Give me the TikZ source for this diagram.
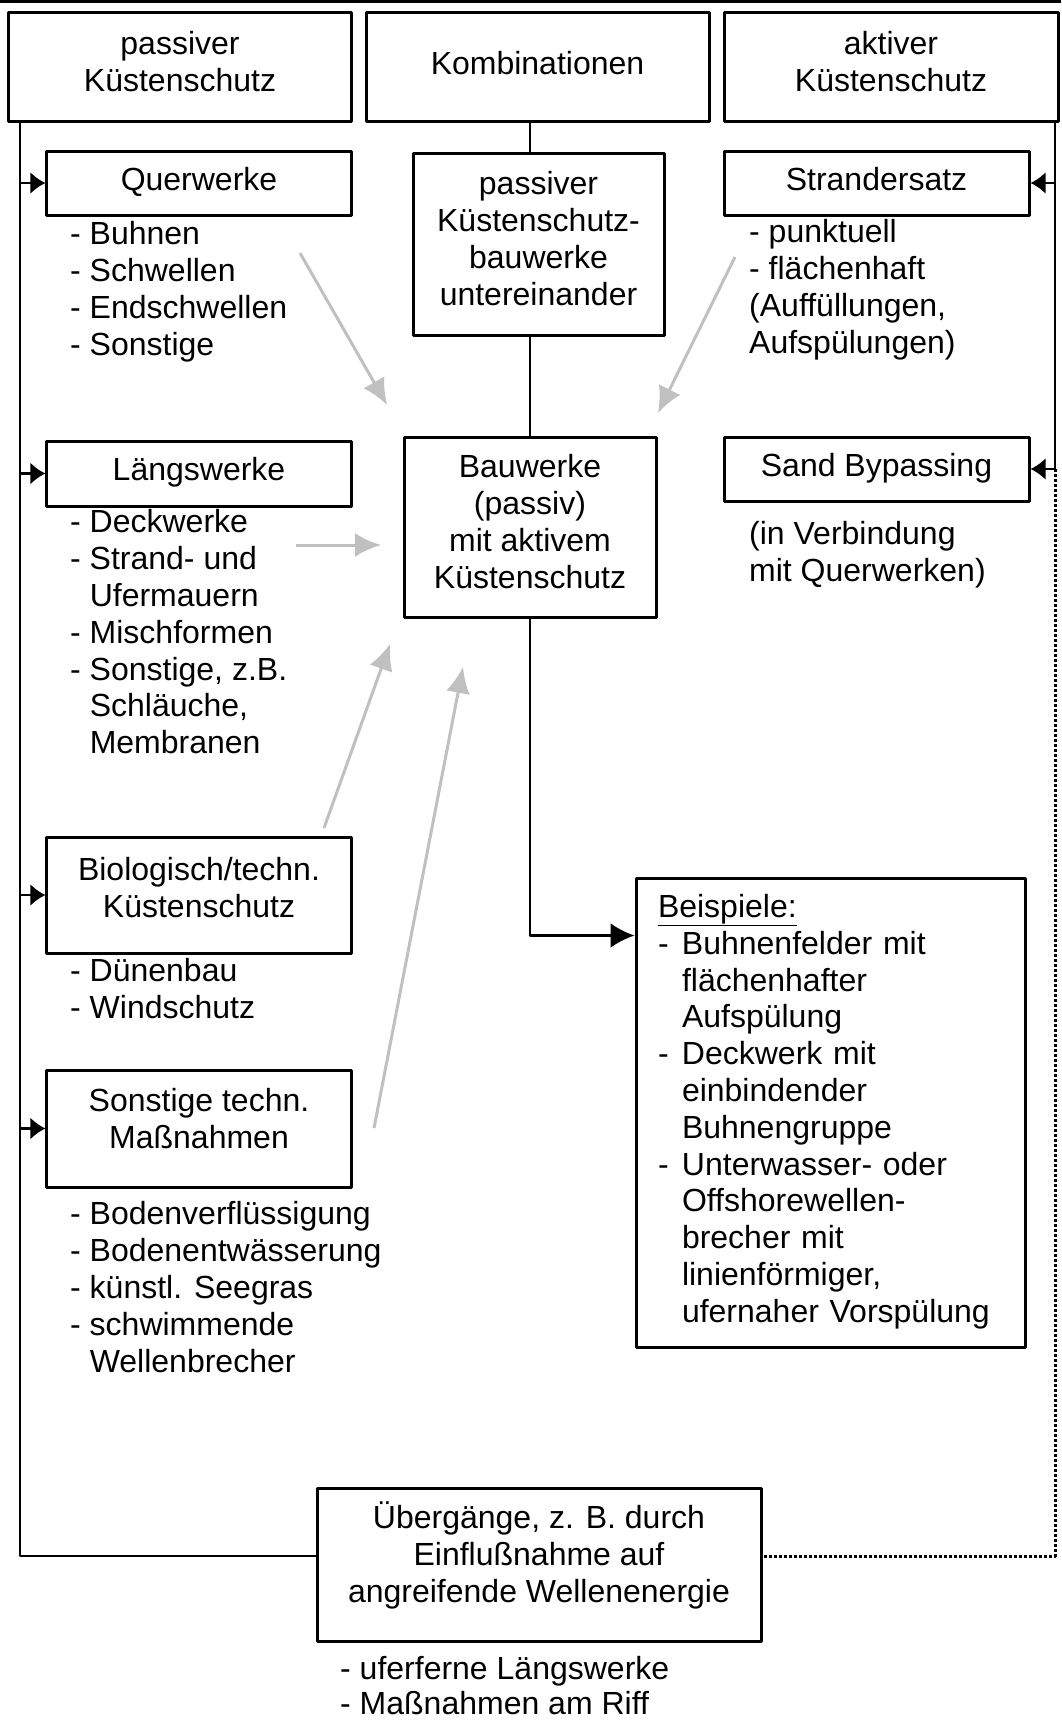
\documentclass[tikz,border=0pt]{standalone}
\usepackage{fontspec}
\setmainfont{Liberation Sans}
\usetikzlibrary{arrows.meta}

\definecolor{arrowgrey}{RGB}{192,192,192}
\newcommand{\boxfont}{\fontsize{32bp}{36.8bp}\selectfont}
\newcommand{\listindent}{\hspace*{19.6bp}}
\newcommand{\dashitem}{\makebox[24bp][l]{-}}
\newcommand{\itemgap}{\hspace*{24bp}}

\begin{document}
\begin{tikzpicture}[>={Latex[length=15bp,width=22bp]},line join=bevel,x=1bp,y=-1bp,
  box/.style={draw,line width=3bp,inner sep=0pt,align=center,font=\boxfont,
    execute at begin node=\strut,execute at end node=\strut},
  raisetext/.style={execute at end node={\strut\rule[-#1]{0pt}{#1}}},
  itemlist/.style={anchor=north west,inner sep=0pt,align=left,font=\boxfont,
    execute at begin node=\strut},
  conn/.style={line width=2.7bp},
  greyarrow/.style={line width=3bp,draw=arrowgrey,-{Latex[length=26bp,width=24bp]}},
  bigarrow/.style={-{Latex[length=24bp,width=25bp]}}]
  \useasboundingbox (0,0) rectangle (1061,1720);
  \pgfsetcolor{black}
  \draw [line width=3bp] (0,1.5) -- (1061,1.5);
  \coordinate (lrail) at (20,0);
  \coordinate (rrail) at (1055,0);
  %%
  % Node: pk
  \node[box,minimum width=342bp,minimum height=108bp] (pk) at (180,67) {passiver\\Küstenschutz};
  % Node: komb
  \node[box,minimum width=343bp,minimum height=108bp] (komb) at (537.5,67) {Kombinationen};
  % Node: ak
  \node[box,minimum width=334bp,minimum height=108bp] (ak) at (891,67) {aktiver\\Küstenschutz};
  % Node: quer
  \node[box,minimum width=304bp,minimum height=64bp] (quer) at (199,183) {Querwerke};
  \node[itemlist] (querlist) at (70,221.5) {- Buhnen\\- Schwellen\\- Endschwellen\\- Sonstige};
  % Node: laengs
  \node[box,minimum width=304bp,minimum height=65bp] (laengs) at (199,473.5) {Längswerke};
  \node[itemlist] (laengslist) at (70,509.5) {- Deckwerke\\- Strand- und\\\listindent Ufermauern\\- Mischformen\\- Sonstige, z.B.\\\listindent Schläuche,\\\listindent Membranen};
  % Node: bio
  \node[box,raisetext=15bp,minimum width=304bp,minimum height=116bp] (bio) at (199,895) {Biologisch/techn.\\Küstenschutz};
  \node[itemlist] (biolist) at (70,958.5) {- Dünenbau\\- Windschutz};
  % Node: sonst
  \node[box,raisetext=20bp,minimum width=304bp,minimum height=117bp] (sonst) at (199,1128.5) {Sonstige techn.\\Maßnahmen};
  \node[itemlist] (sonstlist) at (70,1201.5) {- Bodenverflüssigung\\- Bodenentwässerung\\- künstl. Seegras\\- schwimmende\\\listindent Wellenbrecher};
  % Node: pkb
  \node[box,minimum width=251bp,minimum height=182bp] (pkb) at (538.5,244) {passiver\\Küstenschutz-\\bauwerke\\untereinander};
  % Node: bauw
  \node[box,minimum width=252bp,minimum height=180bp] (bauw) at (530,527) {Bauwerke\\(passiv)\\mit aktivem\\Küstenschutz};
  % Node: beisp
  \node[box,align=left,text width=345bp,inner xsep=22bp,minimum height=469bp] (beisp) at (830.5,1112.5)
    {\underline{Beispiele:}\\\dashitem Buhnenfelder mit\\\itemgap flächenhafter\\\itemgap Aufspülung\\\dashitem Deckwerk mit\\\itemgap einbindender\\\itemgap Buhnengruppe\\\dashitem Unterwasser- oder\\\itemgap Offshorewellen-\\\itemgap brecher mit\\\itemgap linienförmiger,\\\itemgap ufernaher Vorspülung};
  % Node: strand
  \node[box,minimum width=305bp,minimum height=64bp] (strand) at (876.5,183) {Strandersatz};
  \node[itemlist] (strandlist) at (749,219.5) {- punktuell\\- flächenhaft\\(Auffüllungen,\\Aufspülungen)};
  % Node: sand
  \node[box,minimum width=305bp,minimum height=64bp] (sand) at (876.5,469) {Sand Bypassing};
  \node[itemlist] (sandlist) at (749,521.5) {(in Verbindung\\mit Querwerken)};
  % Node: ueb
  \node[box,raisetext=25bp,minimum width=444bp,minimum height=153bp] (ueb) at (539,1564.5) {Übergänge, z. B. durch\\Einflußnahme auf\\angreifende Wellenenergie};
  \node[itemlist,font=\fontsize{32bp}{35bp}\selectfont] (ueblist) at (340,1656) {- uferferne Längswerke\\- Maßnahmen am Riff};
  %%
  % Edge: pk -> quer, laengs, bio, sonst, ueb
  \draw [conn] (pk.south -| lrail) |- ([yshift=8.5bp]ueb.west);
  \draw [conn,->] (quer.west -| lrail) -- (quer.west);
  \draw [conn,->] (laengs.west -| lrail) -- (laengs.west);
  \draw [conn,->] (bio.west -| lrail) -- (bio.west);
  \draw [conn,->] (sonst.west -| lrail) -- (sonst.west);
  % Edge: komb -> pkb -> bauw -> beisp
  \draw [conn] (komb.south -| bauw.north) -- (pkb.north -| bauw.north);
  \draw [conn] (pkb.south -| bauw.north) -- (bauw.north);
  \draw [conn,bigarrow] (bauw.south) |- ([yshift=-59bp]beisp.north west);
  % Edge: ak -> strand, sand, ueb
  \draw [conn] (ak.south -| rrail) -- (sand.east -| rrail);
  \draw [conn,->] (strand.east -| rrail) -- (strand.east);
  \draw [conn,->] (sand.east -| rrail) -- (sand.east);
  \draw [line width=3bp,dash pattern=on 3bp off 2bp] (sand.east -| rrail) |- ([yshift=8.5bp]ueb.east);
  %%
  % Edge: lists -> bauw (grey)
  \coordinate (querout) at (300,253);
  \coordinate (bauwin1) at (387,405);
  \coordinate (strandout) at (735,257);
  \coordinate (bauwin2) at (658,413);
  \coordinate (laengsout) at (296,545);
  \coordinate (bauwin3) at (381,545);
  \coordinate (bioout) at (324,828);
  \coordinate (bauwin4) at (390,644);
  \coordinate (sonstout) at (374,1128);
  \coordinate (bauwin5) at (463,667);
  \draw [greyarrow] (querout) -- (bauwin1);
  \draw [greyarrow] (strandout) -- (bauwin2);
  \draw [greyarrow] (laengsout) -- (bauwin3);
  \draw [greyarrow] (bioout) -- (bauwin4);
  \draw [greyarrow] (sonstout) -- (bauwin5);
  %
\end{tikzpicture}
\end{document}
